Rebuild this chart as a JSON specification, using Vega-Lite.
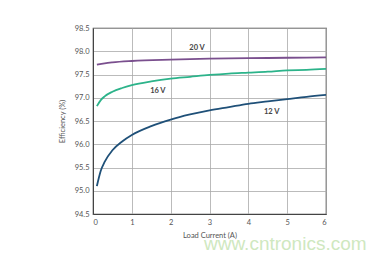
{
  "$schema": "https://vega.github.io/schema/vega-lite/v6.json",
  "width": 233,
  "height": 186,
  "autosize": {"type": "none"},
  "padding": {"left": 93, "top": 28, "right": 57, "bottom": 44},
  "background": "white",
  "config": {
    "font": "Lato",
    "view": {"stroke": "#444", "strokeWidth": 1.2},
    "axis": {
      "labelFont": "Lato", "titleFont": "Lato", "labelFontSize": 7.5, "titleFontSize": 7.5,
      "labelColor": "#555", "titleColor": "#555", "titleFontWeight": "normal", "labelOverlap": false,
      "gridColor": "#aaa", "gridWidth": 0.8, "domainColor": "#444", "tickSize": 0, "labelPadding": 4
    }
  },
  "title": {"text": "www.cntronics.com", "orient": "bottom", "anchor": "end", "color": "#cfe8bf", "fontSize": 19, "font": "Liberation Sans", "fontWeight": "normal", "offset": -4, "dx": 37},
  "datasets": {
    "curves": [
      {"I": 0.1, "eff": 95.10, "v": "12 V"},
      {"I": 0.2, "eff": 95.43, "v": "12 V"},
      {"I": 0.3, "eff": 95.62, "v": "12 V"},
      {"I": 0.5, "eff": 95.87, "v": "12 V"},
      {"I": 0.75, "eff": 96.06, "v": "12 V"},
      {"I": 1, "eff": 96.20, "v": "12 V"},
      {"I": 1.5, "eff": 96.39, "v": "12 V"},
      {"I": 2, "eff": 96.53, "v": "12 V"},
      {"I": 2.5, "eff": 96.64, "v": "12 V"},
      {"I": 3, "eff": 96.73, "v": "12 V"},
      {"I": 3.5, "eff": 96.80, "v": "12 V"},
      {"I": 4, "eff": 96.87, "v": "12 V"},
      {"I": 4.5, "eff": 96.92, "v": "12 V"},
      {"I": 5, "eff": 96.97, "v": "12 V"},
      {"I": 5.5, "eff": 97.02, "v": "12 V"},
      {"I": 6, "eff": 97.06, "v": "12 V"},
      {"I": 0.1, "eff": 96.82, "v": "16 V"},
      {"I": 0.2, "eff": 96.95, "v": "16 V"},
      {"I": 0.3, "eff": 97.03, "v": "16 V"},
      {"I": 0.5, "eff": 97.13, "v": "16 V"},
      {"I": 0.75, "eff": 97.21, "v": "16 V"},
      {"I": 1, "eff": 97.27, "v": "16 V"},
      {"I": 1.5, "eff": 97.35, "v": "16 V"},
      {"I": 2, "eff": 97.41, "v": "16 V"},
      {"I": 2.5, "eff": 97.45, "v": "16 V"},
      {"I": 3, "eff": 97.49, "v": "16 V"},
      {"I": 3.5, "eff": 97.52, "v": "16 V"},
      {"I": 4, "eff": 97.54, "v": "16 V"},
      {"I": 4.5, "eff": 97.56, "v": "16 V"},
      {"I": 5, "eff": 97.59, "v": "16 V"},
      {"I": 5.5, "eff": 97.60, "v": "16 V"},
      {"I": 6, "eff": 97.62, "v": "16 V"},
      {"I": 0.1, "eff": 97.71, "v": "20 V"},
      {"I": 0.3, "eff": 97.74, "v": "20 V"},
      {"I": 0.5, "eff": 97.76, "v": "20 V"},
      {"I": 1, "eff": 97.79, "v": "20 V"},
      {"I": 2, "eff": 97.82, "v": "20 V"},
      {"I": 3, "eff": 97.84, "v": "20 V"},
      {"I": 4, "eff": 97.85, "v": "20 V"},
      {"I": 5, "eff": 97.86, "v": "20 V"},
      {"I": 6, "eff": 97.87, "v": "20 V"}
    ],
    "labels": [
      {"I": 2.68, "eff": 98.07, "v": "20 V"},
      {"I": 1.67, "eff": 97.15, "v": "16 V"},
      {"I": 4.6, "eff": 96.69, "v": "12 V"}
    ]
  },
  "encoding": {
    "x": {"field": "I", "type": "quantitative", "scale": {"domain": [0, 6]}, "axis": {"title": "Load Current (A)", "values": [0,1,2,3,4,5,6], "labelOverlap": false, "titlePadding": 6}},
    "y": {"field": "eff", "type": "quantitative", "scale": {"domain": [94.5, 98.5]}, "axis": {"title": "Efficiency (%)", "values": [94.5,95,95.5,96,96.5,97,97.5,98,98.5], "labelOverlap": false, "format": ".1f", "titlePadding": 8}}
  },
  "layer": [
    {
      "data": {"name": "curves"},
      "mark": {"type": "line", "strokeWidth": 1.8, "interpolate": "monotone"},
      "encoding": {
        "color": {"field": "v", "type": "nominal", "scale": {"domain": ["12 V", "16 V", "20 V"], "range": ["#1f5078", "#2cb38a", "#7a4f8e"]}, "legend": null}
      }
    },
    {
      "data": {"name": "labels"},
      "mark": {"type": "text", "fontSize": 7.5, "fontWeight": "bold", "color": "#444", "font": "Lato"},
      "encoding": {
        "text": {"field": "v"}
      }
    }
  ]
}
